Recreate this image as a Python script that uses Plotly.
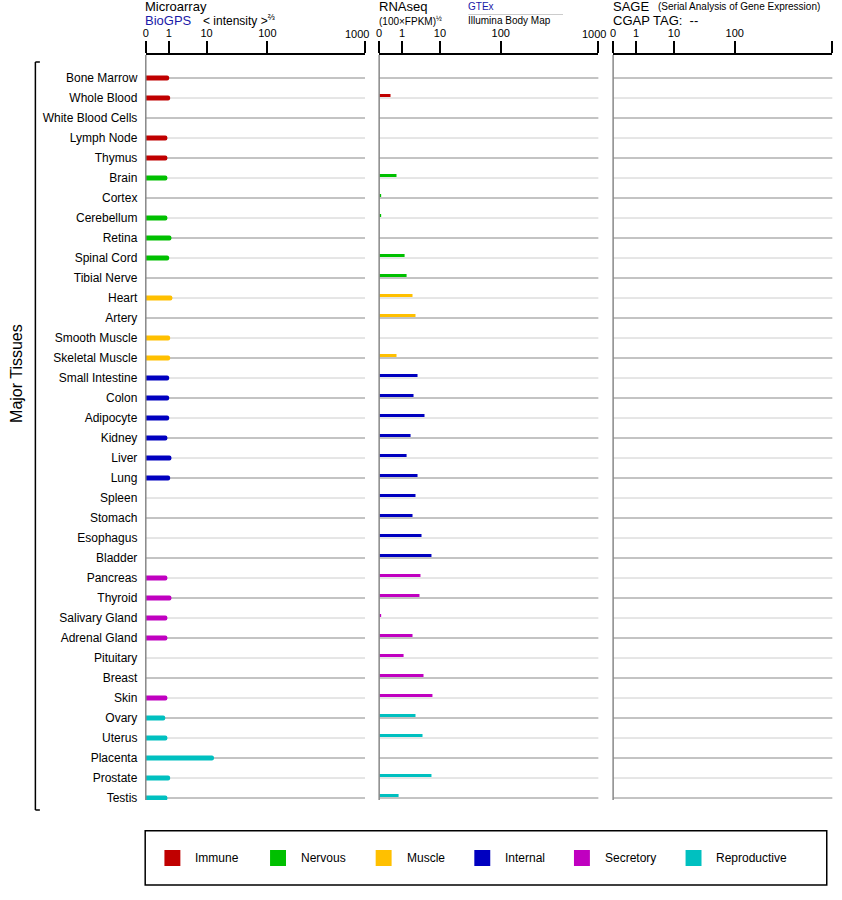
"""
Tissue expression profile: Microarray (BioGPS), RNAseq (GTEx / Illumina Body Map)
and SAGE panels, one row per tissue, bars coloured by tissue system.
"""
import numpy as np
import plotly.graph_objects as go

# layout is measured on an 842x900 picture; the page is drawn a little taller
# because the capture squeezes it back to 900px high
W, H = 842, 900
PAGE_H = 905

TISSUES = [
    "Bone Marrow", "Whole Blood", "White Blood Cells", "Lymph Node", "Thymus",
    "Brain", "Cortex", "Cerebellum", "Retina", "Spinal Cord", "Tibial Nerve",
    "Heart", "Artery", "Smooth Muscle", "Skeletal Muscle",
    "Small Intestine", "Colon", "Adipocyte", "Kidney", "Liver", "Lung", "Spleen",
    "Stomach", "Esophagus", "Bladder",
    "Pancreas", "Thyroid", "Salivary Gland", "Adrenal Gland", "Pituitary", "Breast", "Skin",
    "Ovary", "Uterus", "Placenta", "Prostate", "Testis",
]
SYSTEM = (["Immune"] * 5 + ["Nervous"] * 6 + ["Muscle"] * 4 + ["Internal"] * 10
          + ["Secretory"] * 7 + ["Reproductive"] * 5)

SYSTEMS = ["Immune", "Nervous", "Muscle", "Internal", "Secretory", "Reproductive"]
SYSTEM_COLORS = ["#c00000", "#00c000", "#ffc000", "#0000c0", "#c000c0", "#00c0c0"]

# microarray < intensity >^(2/3), None = no probe
MICROARRAY = [
    1.04, 1.13, None, 0.92, 0.92,
    0.92, None, 0.92, 1.26, 1.04, None,
    1.36, None, 1.13, 1.13,
    1.04, 1.04, 1.04, 0.92, 1.26, 1.13, None, None, None, None,
    0.92, 1.26, 0.92, 0.92, None, None, 0.92,
    0.80, 0.92, 13.4, 1.13, 0.92,
]
# RNAseq (100 x FPKM)^(1/2)
RNASEQ = [
    None, 0.41, None, None, None,
    0.69, 0.05, 0.05, None, 1.24, 1.45,
    2.20, 2.66, None, 0.69,
    3.01, 2.35, 4.49, 1.93, 1.45, 3.01, 2.66, 2.20, 3.80, 6.51,
    3.58, 3.38, 0.05, 2.20, 1.14, 4.25, 6.85,
    2.66, 4.02, None, 6.51, 0.80,
]
# SAGE: no CGAP tag for this gene
SAGE = [None] * len(TISSUES)

TICK_VALUES = [0, 1, 10, 100, 1000]
TICK_LABELS = ["0", "1", "10", "100", "1000"]
TICK_POS = [0, 23, 61, 122, 220]   # axis units (= pixels across a 220px panel)


def scale(v):
    return float(np.interp(np.log10(1 + v), np.log10(1 + np.array(TICK_VALUES)), TICK_POS))


def px(x):
    return x / W


def py(y):
    return 1 - y / H


color_of = dict(zip(SYSTEMS, SYSTEM_COLORS))
bar_colors = [color_of[s] for s in SYSTEM]

# panel left edges (px) and their x axes
PANELS = [("x", 143.3), ("x2", 377.5), ("x3", 612.3)]
PANEL_W = 220

fig = go.Figure()


def add_bars(values, xaxis, width, offset, radius):
    xs, ys, cs = [], [], []
    for t, v, c in zip(TISSUES, values, bar_colors):
        if v is None:
            continue
        xs.append(scale(v))
        ys.append(t)
        cs.append(c)
    fig.add_trace(go.Bar(
        x=xs, y=ys, orientation="h", xaxis=xaxis, yaxis="y",
        width=width, offset=offset,
        marker=dict(color=cs, line_width=0, cornerradius=radius),
        hoverinfo="x+y",
    ))


add_bars(MICROARRAY, "x", 0.25, -0.125, 2)
add_bars(RNASEQ, "x2", 0.15, -0.2, 0)
add_bars(SAGE, "x3", 0.15, -0.2, 0)

shapes = []
for axis, _ in PANELS:
    ref = axis + " domain"
    for i, t in enumerate(TISSUES):
        shapes.append(dict(
            type="line", xref=ref, yref="y", x0=0, x1=1, y0=t, y1=t,
            line=dict(color="#888888" if i % 2 == 0 else "#cccccc", width=1),
            layer="below",
        ))
    shapes.append(dict(
        type="line", xref=ref, yref="y domain", x0=0, x1=0, y0=0, y1=1,
        line=dict(color="#888888", width=1.5),
    ))

# bracket for "Major Tissues"
for x0, y0, x1, y1 in [(32.5, 62, 32.5, 810), (32.5, 62, 37, 62), (32.5, 810, 37, 810)]:
    shapes.append(dict(type="line", xref="paper", yref="paper",
                       x0=px(x0), y0=py(y0), x1=px(x1), y1=py(y1),
                       line=dict(color="black", width=1.5)))

# GTEx / Illumina separator
shapes.append(dict(type="line", xref="paper", yref="paper",
                   x0=px(467), x1=px(562), y0=py(14.5), y1=py(14.5),
                   line=dict(color="#cccccc", width=1)))

# legend box
shapes.append(dict(type="rect", xref="paper", yref="paper",
                   x0=px(142.7), x1=px(826.7), y0=py(830.7), y1=py(885),
                   line=dict(color="black", width=1.5)))

LEGEND_X = [162, 268, 374, 473, 573, 685]
annotations = []
for lx, name, col in zip(LEGEND_X, SYSTEMS, SYSTEM_COLORS):
    shapes.append(dict(type="rect", xref="paper", yref="paper",
                       x0=px(lx), x1=px(lx + 16), y0=py(850), y1=py(866),
                       fillcolor=col, line_width=0))
    annotations.append(dict(x=px(lx + 29), y=py(858), text=name))


def label(x, y, text, size=13, color="black"):
    annotations.append(dict(x=px(x), y=py(y), text=text,
                            font=dict(size=size, color=color)))


label(141, 7, "Microarray")
label(141, 21, "BioGPS", color="#1a1aa8")
label(199, 20, "< intensity ><sup>⅔</sup>", size=12)
label(375, 7, "RNAseq")
label(375, 21, "(100×FPKM)<sup>½</sup>", size=10)
label(465, 7, "GTEx", size=10, color="#1a1aa8")
label(465, 21, "Illumina Body Map", size=10)
label(610, 7, "SAGE")
label(655, 7, "(Serial Analysis of Gene Expression)", size=10)
label(610, 21, "CGAP TAG:  --")

# the last tick label of the first two panels is pulled inside its panel
for (axis, left), right in zip(PANELS[:2], [365.5, 603.5]):
    label(right - 24.5, 34, TICK_LABELS[-1], size=11)

for a in annotations:
    a.update(xref="paper", yref="paper", xanchor="left", yanchor="middle", showarrow=False)
    a.setdefault("font", dict(size=12, color="black"))

annotations.append(dict(x=px(14), y=py(373), xref="paper", yref="paper",
                        xanchor="center", yanchor="middle",
                        text="Major Tissues", textangle=-90, showarrow=False,
                        font=dict(size=16, color="black")))

xaxis_style = dict(
    side="top", anchor="y", range=[0, PANEL_W],
    tickmode="array", tickvals=[scale(v) for v in TICK_VALUES],
    ticks="outside", ticklen=12, tickwidth=1.5, tickcolor="black",
    showline=True, linecolor="black", linewidth=1.5,
    showgrid=False, zeroline=False, fixedrange=True,
    tickfont=dict(size=11, color="black"),
)
layout_axes = {}
for n, (axis, left) in enumerate(PANELS):
    key = "xaxis" if n == 0 else f"xaxis{n + 1}"
    text = TICK_LABELS if axis == "x3" else TICK_LABELS[:-1] + [""]
    layout_axes[key] = dict(xaxis_style, ticktext=text, domain=[px(left), px(left + PANEL_W)])

fig.update_layout(
    width=W, height=PAGE_H, margin=dict(l=0, r=0, t=0, b=0),
    autosize=False, showlegend=False,
    paper_bgcolor="white", plot_bgcolor="white",
    font=dict(family="Liberation Sans, Arial, sans-serif", color="black"),
    yaxis=dict(
        type="category", categoryorder="array", categoryarray=TISSUES,
        range=[36.1, -1.15], domain=[py(800), py(55)], anchor="x",
        showgrid=False, zeroline=False, showline=False, fixedrange=True,
        ticks="outside", ticklen=5, tickcolor="rgba(0,0,0,0)",
        tickfont=dict(size=12, color="black"),
    ),
    shapes=shapes,
    annotations=annotations,
    **layout_axes,
)

# drop the browser's default body margin and any scrollbars
fig.write_html(
    "out.html",
    config={"displayModeBar": False},
    post_script="document.body.style.margin = '0';"
                "document.documentElement.style.overflow = 'hidden';"
                "document.body.style.overflow = 'hidden';",
)
